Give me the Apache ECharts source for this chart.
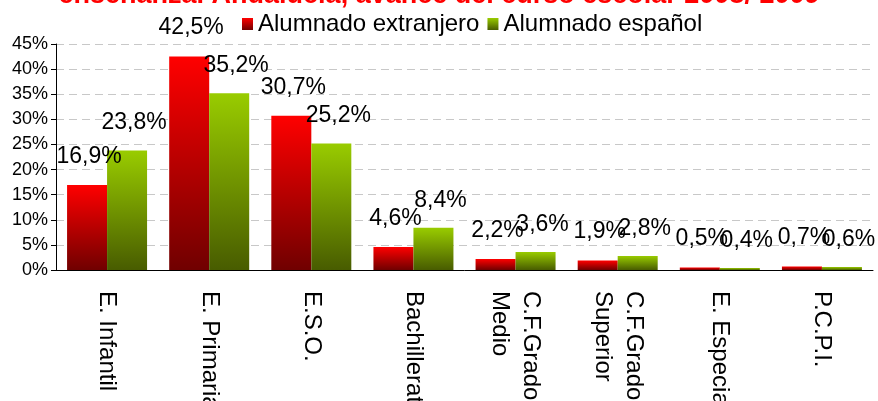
<!DOCTYPE html>
<html>
<head>
<meta charset="utf-8">
<script src="https://cdn.jsdelivr.net/npm/echarts@6/dist/echarts.min.js"></script>
<style>
  html, body { margin: 0; padding: 0; background: #fff; }
  #chart1 { width: 878px; height: 401px; }
</style>
</head>
<body>
<div id="chart1"></div>
<script>
// datos
var categorias = ['E. Infantil', 'E. Primaria', 'E.S.O.', 'Bachillerato',
    'C.F.Grado\nMedio', 'C.F.Grado\nSuperior', 'E. Especial', 'P.C.P.I.'];
var extranjero = [16.9, 42.5, 30.7, 4.6, 2.2, 1.9, 0.5, 0.7];
var espanol = [23.8, 35.2, 25.2, 8.4, 3.6, 2.8, 0.4, 0.6];
var ticksY = [0, 5, 10, 15, 20, 25, 30, 35, 40, 45];

var fuente = '"Liberation Sans", Arial, sans-serif';

function gradiente(arriba, abajo) {
    return new echarts.graphic.LinearGradient(0, 0, 0, 1, [
        { offset: 0, color: arriba },
        { offset: 1, color: abajo }
    ]);
}

function etiqueta(v) {
    return String(v.value).replace('.', ',') + '%';
}

var _chart1 = echarts.init(document.getElementById('chart1'));

var option = {
    animation: false,
    backgroundColor: '#fff',
    title: {
        text: 'enseñanza. Andalucía, avance del curso escolar 2008/ 2009',
        left: 'center',
        top: -23,
        textStyle: { color: '#ff0000', fontSize: 27, fontWeight: 'bold', fontFamily: fuente }
    },
    legend: {
        top: 7,
        left: 237,
        icon: 'rect',
        itemWidth: 11,
        itemHeight: 12,
        itemGap: 8,
        textStyle: { fontSize: 24, color: '#000', fontFamily: fuente },
        data: [
            { name: 'Alumnado extranjero', itemStyle: { color: gradiente('#ff0000', '#700000') } },
            { name: 'Alumnado español', itemStyle: { color: gradiente('#99cc00', '#485c00') } }
        ]
    },
    grid: {
        left: 56,
        right: 5,
        top: 44,
        bottom: 131,
        outerBoundsMode: 'none'
    },
    xAxis: [
        {
            type: 'category',
            data: categorias,
            axisLine: { lineStyle: { color: '#000', width: 1 } },
            axisTick: { length: 6, lineStyle: { color: '#000' } },
            axisLabel: {
                rotate: -90,
                margin: 21,
                fontSize: 24,
                lineHeight: 31,
                color: '#000',
                fontFamily: fuente
            }
        }
    ],
    yAxis: [
        {
            type: 'value',
            min: 0,
            max: 45,
            interval: 5,
            axisLine: { show: true, lineStyle: { color: '#000', width: 1 } },
            axisTick: { show: true, length: 5, lineStyle: { color: '#000' } },
            axisLabel: {
                margin: 8,
                fontSize: 18,
                color: '#000',
                fontFamily: fuente,
                formatter: function (v) { return ticksY.indexOf(v) >= 0 ? v + '%' : ''; }
            },
            splitLine: { lineStyle: { color: '#c8c8c8', type: [8, 5], width: 1 } }
        }
    ],
    series: [
        {
            name: 'Alumnado extranjero',
            type: 'bar',
            barWidth: 40,
            barGap: '0%',
            data: extranjero,
            itemStyle: { color: gradiente('#ff0000', '#700000') },
            label: {
                show: true,
                position: 'top',
                distance: 17,
                offset: [2, 0],
                fontSize: 23,
                color: '#000',
                fontFamily: fuente,
                formatter: etiqueta
            }
        },
        {
            name: 'Alumnado español',
            type: 'bar',
            barWidth: 40,
            data: espanol,
            itemStyle: { color: gradiente('#99cc00', '#485c00') },
            label: {
                show: true,
                position: 'top',
                distance: 16,
                offset: [7, 0],
                fontSize: 23,
                color: '#000',
                fontFamily: fuente,
                formatter: etiqueta
            }
        }
    ]
};

_chart1.setOption(option);
</script>
</body>
</html>
